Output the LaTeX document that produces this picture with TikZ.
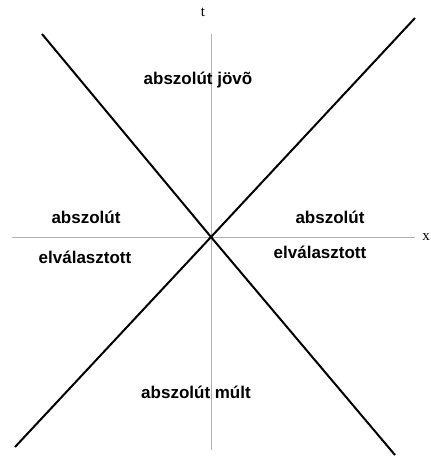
\documentclass[tikz,border=0pt]{standalone}
\usepackage{fontspec}
\setmainfont{Liberation Serif}
\newfontfamily\labelfont{Liberation Sans}
\usetikzlibrary{positioning}

\begin{document}
\begin{tikzpicture}[x=1pt,y=-1pt,every node/.style={inner sep=0pt}]
\tikzset{axis/.style={draw=gray!60,line width=0.8pt},cone/.style={draw=black,line width=2pt},region/.style={font=\labelfont\bfseries\fontsize{17}{19}\selectfont},axlabel/.style={font=\fontsize{15}{15}\selectfont}}
\useasboundingbox (0,0) rectangle (431,456);
\coordinate (o) at (211,237);
\coordinate (tbot) at (211,450);
\coordinate (ttop) at (211,34);
\coordinate (xleft) at (12,237);
\coordinate (xright) at (415,237);
\coordinate (ul) at (42,34);
\coordinate (lr) at (395,455);
\coordinate (ur) at (415,18);
\coordinate (ll) at (15,447);
\draw[axis] (tbot)--(ttop);
\draw[axis] (xleft)--(xright);
\node[axlabel] (tlab) at (203,12) {t};
\node[axlabel] (xlab) at (426,237) {x};
\draw[cone] (ul)--(o)--(lr);
\draw[cone] (ur)--(o)--(ll);
\node[region] (future) at (198,80) {abszolút jövõ};
\node[region] (past) at (196,392) {abszolút múlt};
\node[region] (leftup) at (86,217) {abszolút};
\node[region] (leftdown) at (85,257) {elválasztott};
\node[region] (rightup) at (330,217) {abszolút};
\node[region] (rightdown) at (320,252) {elválasztott};
\end{tikzpicture}
\end{document}
